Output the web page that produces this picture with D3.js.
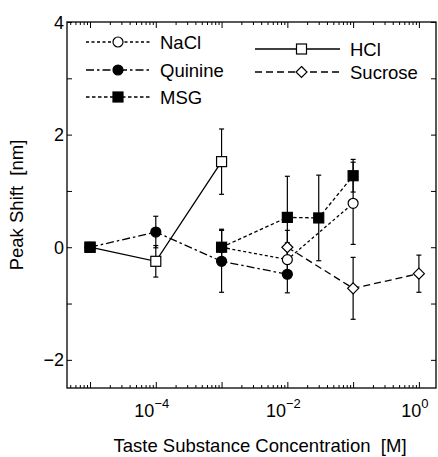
<!DOCTYPE html>
<html>
<head>
<meta charset="utf-8">
<script src="https://cdn.jsdelivr.net/npm/d3@7"></script>
<style>
  body { margin: 0; background: #fff; }
  svg { font-family: "Liberation Sans", Arial, sans-serif; }
</style>
</head>
<body>
<script>
// Data (concentration in M, peak shift in nm, error half-width in nm)
const baseConc = [1e-5];
const baseShift = [0];

const naclConc = [1e-3, 1e-2, 1e-1];
const naclShift = [0, -0.22, 0.78];
const naclErr = [0.3, 0.3, 0.73];

const quinineConc = [1e-5, 1e-4, 1e-3, 1e-2];
const quinineShift = [0, 0.27, -0.25, -0.48];
const quinineErr = [0, 0.28, 0.55, 0.33];

const msgConc = [1e-3, 1e-2, 3e-2, 1e-1];
const msgShift = [0, 0.53, 0.52, 1.27];
const msgErr = [0.32, 0.73, 0.76, 0.29];

const hclConc = [1e-5, 1e-4, 1e-3];
const hclShift = [0, -0.25, 1.52];
const hclErr = [0, 0.28, 0.58];

const sucroseConc = [1e-2, 1e-1, 1];
const sucroseShift = [0, -0.73, -0.47];
const sucroseErr = [0.3, 0.55, 0.33];

const xMajor = [1e-5, 1e-4, 1e-3, 1e-2, 1e-1, 1];
const xLabelled = [1e-4, 1e-2, 1];
const yTicks = [-2, 0, 2, 4];
const yMinor = [-1, 1, 3];

// Layout
const width = 438, height = 457;
const mLeft = 67, mRight = 436, mTop = 22, mBottom = 388;

const svg = d3.select("body").append("svg")
    .attr("width", width)
    .attr("height", height);

// Scales
const x = d3.scaleLog()
    .domain([Math.pow(10, -5.35), Math.pow(10, 0.26)])
    .range([mLeft, mRight]);
const y = d3.scaleLinear()
    .domain([-2.5, 4])
    .range([mBottom, mTop]);

// Minor log ticks
let xMinor = [];
[1e-6].concat(xMajor).forEach(d => {
    for (let k = 2; k <= 9; k++) xMinor.push(d * k);
});
xMinor = xMinor.filter(v => v >= x.domain()[0] && v <= x.domain()[1]);

// Axes with inward ticks
function tickAxis(axis, transform, values, size) {
    const g = svg.append("g")
        .attr("transform", transform)
        .call(axis.tickValues(values).tickSize(size).tickSizeOuter(0).tickFormat(""));
    g.select(".domain").remove();
    g.selectAll("line").attr("stroke", "#000").attr("stroke-width", 1);
    return g;
}
tickAxis(d3.axisBottom(x), `translate(0,${mBottom})`, xMinor, -3);
tickAxis(d3.axisBottom(x), `translate(0,${mBottom})`, xMajor, -6);
tickAxis(d3.axisTop(x), `translate(0,${mTop})`, xMinor, -3);
tickAxis(d3.axisTop(x), `translate(0,${mTop})`, xMajor, -6);
tickAxis(d3.axisLeft(y), `translate(${mLeft},0)`, yTicks.concat(yMinor), -5);
tickAxis(d3.axisRight(y), `translate(${mRight},0)`, yTicks.concat(yMinor), -5);

// Frame
svg.append("rect")
    .attr("x", mLeft).attr("y", mTop)
    .attr("width", mRight - mLeft).attr("height", mBottom - mTop)
    .attr("fill", "none").attr("stroke", "#000").attr("stroke-width", 1.3);

// Tick labels
svg.append("g").selectAll("text")
    .data(yTicks)
    .join("text")
    .attr("x", mLeft - 3)
    .attr("y", d => y(d) + 6.5)
    .attr("text-anchor", "end")
    .attr("font-size", 18)
    .text(d => d < 0 ? "\u2212" + Math.abs(d) : d);

const xl = svg.append("g").selectAll("text")
    .data(xLabelled)
    .join("text")
    .attr("x", d => x(d) - 4)
    .attr("y", mBottom + 29)
    .attr("text-anchor", "middle")
    .attr("font-size", 18);
xl.append("tspan").text("10");
xl.append("tspan")
    .attr("dy", -9)
    .attr("font-size", 13)
    .text(d => {
        const p = Math.round(Math.log10(d));
        return p < 0 ? "\u2212" + Math.abs(p) : p;
    });

// Axis titles
svg.append("text")
    .attr("x", 260)
    .attr("y", 452)
    .attr("text-anchor", "middle")
    .attr("font-size", 18.5)
    .attr("xml:space", "preserve")
    .text("Taste Substance Concentration  [M]");

svg.append("text")
    .attr("transform", `translate(23,${(mTop + mBottom) / 2}) rotate(-90)`)
    .attr("text-anchor", "middle")
    .attr("font-size", 18.5)
    .attr("xml:space", "preserve")
    .text("Peak Shift  [nm]");

// Series definitions
const series = [
    {name: "NaCl", conc: naclConc, shift: naclShift, err: naclErr, dash: "3,2.5", marker: "circle", fill: "#fff"},
    {name: "Quinine", conc: quinineConc, shift: quinineShift, err: quinineErr, dash: "8,3,2.5,3", marker: "circle", fill: "#000"},
    {name: "MSG", conc: msgConc, shift: msgShift, err: msgErr, dash: "3.5,2.5", marker: "square", fill: "#000"},
    {name: "HCl", conc: hclConc, shift: hclShift, err: hclErr, dash: null, marker: "square", fill: "#fff"},
    {name: "Sucrose", conc: sucroseConc, shift: sucroseShift, err: sucroseErr, dash: "7,4", marker: "diamond", fill: "#fff"}
];
series.forEach(s => {
    s.points = s.conc.map((c, i) => ({c: c, v: s.shift[i], e: s.err[i]}));
});

const line = d3.line().x(d => x(d.c)).y(d => y(d.v));

function drawMarker(g, type, fill, cx, cy) {
    if (type === "circle") {
        g.append("circle").attr("cx", cx).attr("cy", cy).attr("r", 5)
            .attr("fill", fill).attr("stroke", "#000").attr("stroke-width", 1.2);
    } else if (type === "square") {
        g.append("rect").attr("x", cx - 5).attr("y", cy - 5)
            .attr("width", 10).attr("height", 10)
            .attr("fill", fill).attr("stroke", "#000").attr("stroke-width", 1.2);
    } else {
        g.append("path")
            .attr("d", `M${cx},${cy - 5.5}L${cx + 5.5},${cy}L${cx},${cy + 5.5}L${cx - 5.5},${cy}Z`)
            .attr("fill", fill).attr("stroke", "#000").attr("stroke-width", 1.2);
    }
}

const plot = svg.append("g");

// Lines
series.forEach(s => {
    plot.append("path")
        .datum(s.points)
        .attr("fill", "none")
        .attr("stroke", "#000")
        .attr("stroke-width", 1.3)
        .attr("stroke-dasharray", s.dash)
        .attr("d", line);
});

// Error bars
series.forEach(s => {
    s.points.filter(d => d.e > 0).forEach(d => {
        const cx = x(d.c), y1 = y(d.v + d.e), y2 = y(d.v - d.e);
        plot.append("line").attr("x1", cx).attr("x2", cx).attr("y1", y1).attr("y2", y2)
            .attr("stroke", "#000").attr("stroke-width", 1.2);
        [y1, y2].forEach(yy => {
            plot.append("line").attr("x1", cx - 2.5).attr("x2", cx + 2.5).attr("y1", yy).attr("y2", yy)
                .attr("stroke", "#000").attr("stroke-width", 1.2);
        });
    });
});

// Markers
series.forEach(s => {
    s.points.forEach(d => drawMarker(plot, s.marker, s.fill, x(d.c), y(d.v)));
});
baseConc.forEach((c, i) => drawMarker(plot, "square", "#000", x(c), y(baseShift[i])));

// Legend
const legendPos = {
    NaCl: {x1: 86, x2: 150, y: 42},
    Quinine: {x1: 86, x2: 150, y: 70},
    MSG: {x1: 86, x2: 150, y: 97},
    HCl: {x1: 255, x2: 340, y: 49},
    Sucrose: {x1: 255, x2: 340, y: 72}
};
const legend = svg.append("g");
series.forEach(s => {
    const p = legendPos[s.name];
    legend.append("line")
        .attr("x1", p.x1).attr("x2", p.x2).attr("y1", p.y).attr("y2", p.y)
        .attr("stroke", "#000").attr("stroke-width", 1.3)
        .attr("stroke-dasharray", s.dash);
    drawMarker(legend, s.marker, s.fill, (p.x1 + p.x2) / 2 + (s.name === "HCl" || s.name === "Sucrose" ? 4 : 0), p.y);
    legend.append("text")
        .attr("x", p.x2 + 10)
        .attr("y", p.y + 6.5)
        .attr("font-size", 18.5)
        .text(s.name);
});
</script>
</body>
</html>
